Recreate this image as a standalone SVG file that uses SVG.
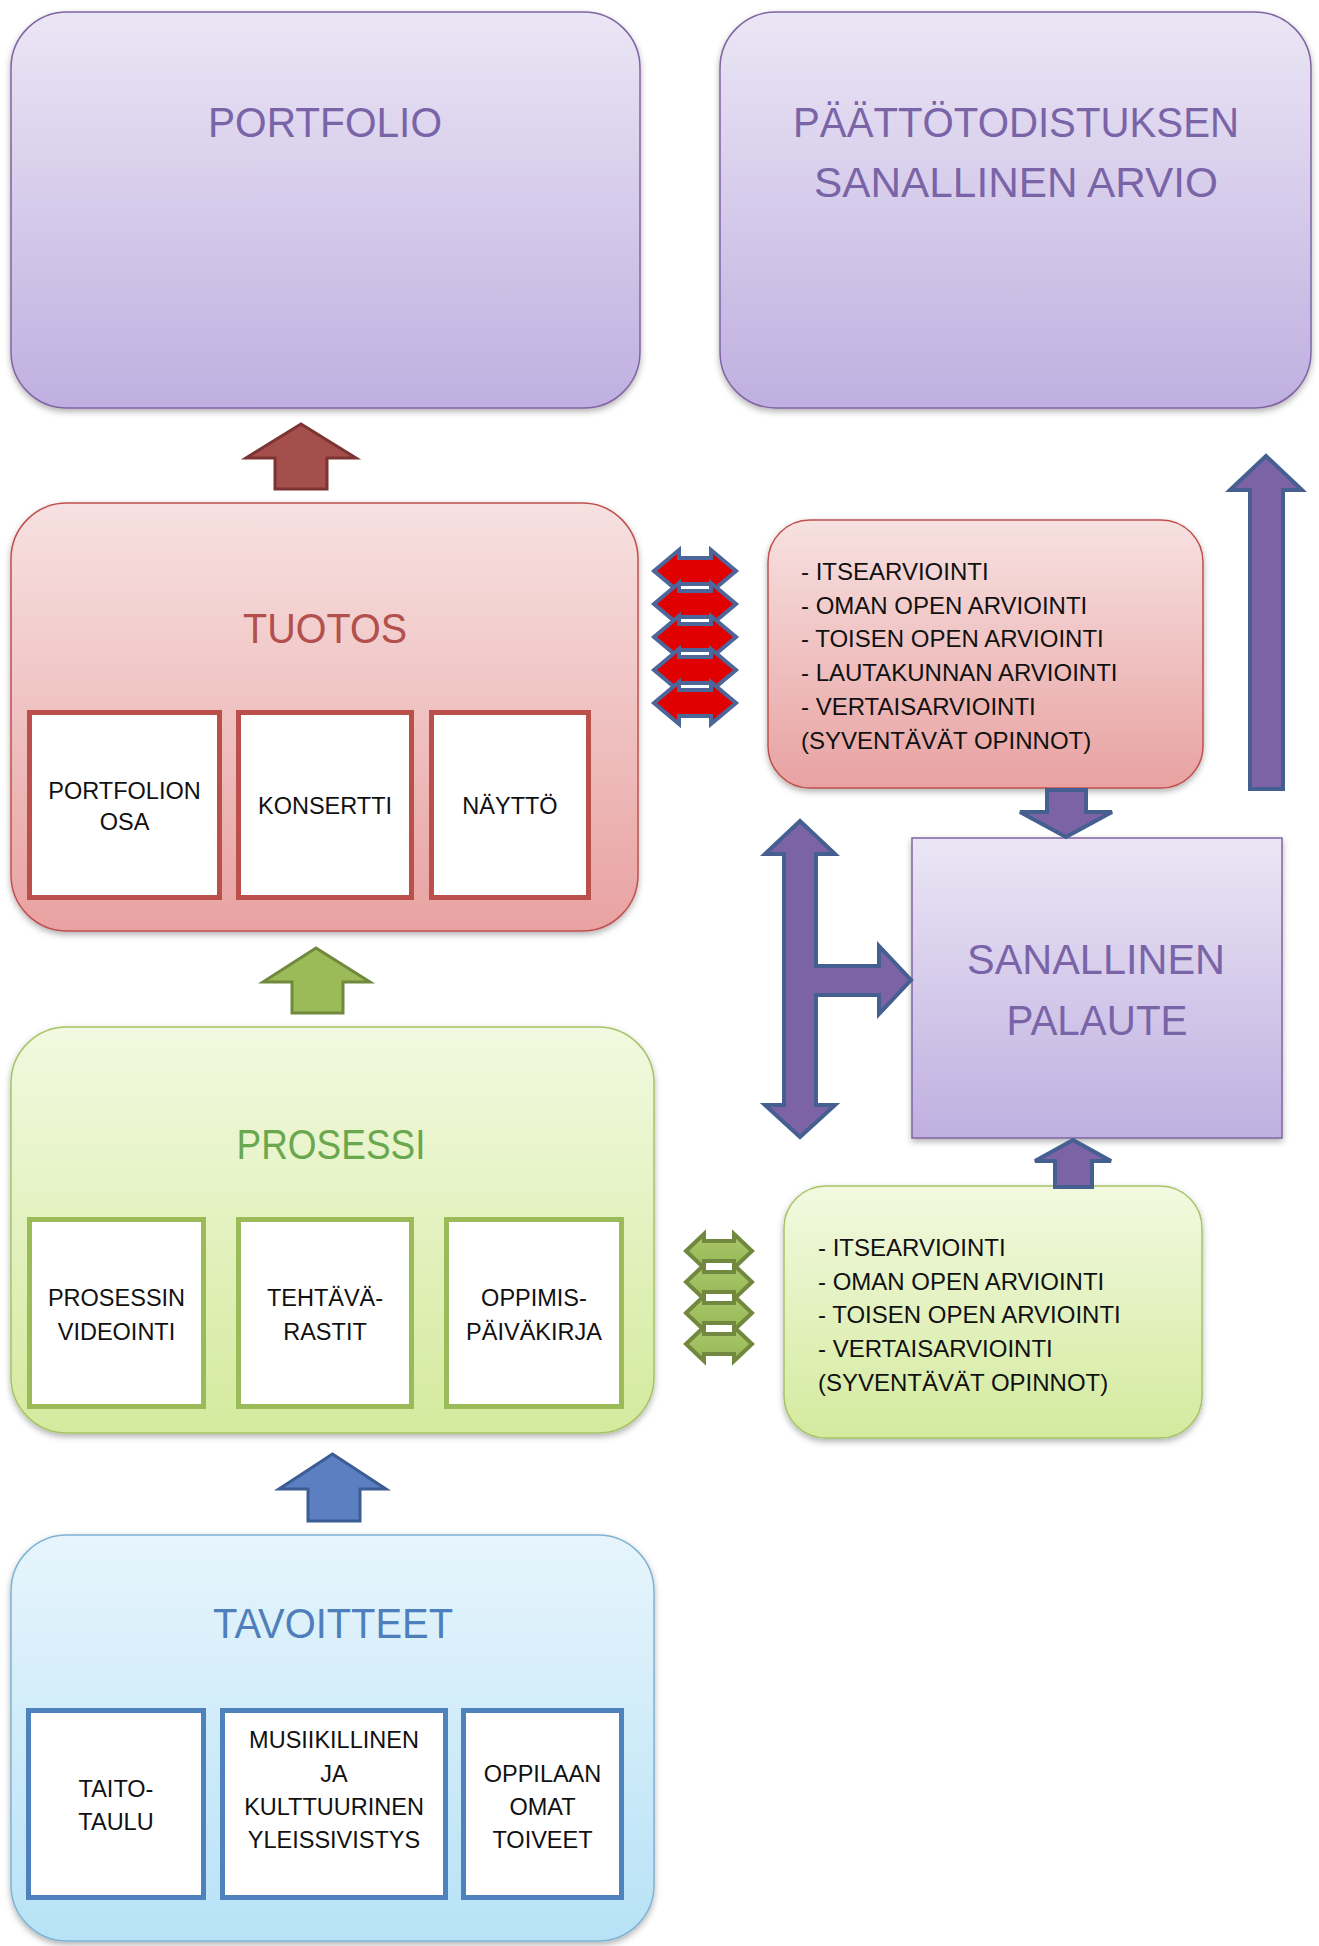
<svg xmlns="http://www.w3.org/2000/svg" width="1319" height="1946" viewBox="0 0 1319 1946">
<style>
.title{font-family:"Liberation Sans",Arial,sans-serif;font-size:43px;text-anchor:middle}
.inner{font-family:"Liberation Sans",Arial,sans-serif;font-size:23.5px;text-anchor:middle;fill:#111}
.eval{font-family:"Liberation Sans",Arial,sans-serif;font-size:24px;fill:#111}
.ibr{fill:#fff;stroke:#bb4f4c;stroke-width:5}
.ibg{fill:#fff;stroke:#9bbb59;stroke-width:5}
.ibb{fill:#fff;stroke:#4f81bd;stroke-width:5}
.pa{fill:#7c63a6;stroke:#455f91;stroke-width:4;stroke-linejoin:miter}
.ra{fill:#e00000;stroke:#4d6699;stroke-width:4}
.ga{fill:url(#gArr);stroke:#71893f;stroke-width:4}
</style>
<defs>
<linearGradient id="gPur" x1="0" y1="0" x2="0" y2="1"><stop offset="0" stop-color="#ebe6f5"/><stop offset="1" stop-color="#bfafe0"/></linearGradient>
<linearGradient id="gRed" x1="0" y1="0" x2="0" y2="1"><stop offset="0" stop-color="#f7e1e1"/><stop offset="1" stop-color="#e8a2a1"/></linearGradient>
<linearGradient id="gGrn" x1="0" y1="0" x2="0" y2="1"><stop offset="0" stop-color="#f2f9e0"/><stop offset="1" stop-color="#d4ea9e"/></linearGradient>
<linearGradient id="gBlu" x1="0" y1="0" x2="0" y2="1"><stop offset="0" stop-color="#e7f5fc"/><stop offset="1" stop-color="#b7e2f6"/></linearGradient>
<linearGradient id="gArr" x1="0" y1="0" x2="0" y2="1"><stop offset="0" stop-color="#a8c76b"/><stop offset="1" stop-color="#98b856"/></linearGradient>
<filter id="sh" x="-5%" y="-5%" width="110%" height="112%"><feDropShadow dx="0" dy="3" stdDeviation="3" flood-color="#000" flood-opacity="0.3"/></filter>
</defs>
<rect width="1319" height="1946" fill="#fff"/>

<g id="portfolio">
<rect x="11" y="12" width="629" height="396" rx="56" fill="url(#gPur)" stroke="#8064a2" stroke-width="1.5" filter="url(#sh)"/>
<text class="title" x="325" y="137" fill="#7a64a8" textLength="234" lengthAdjust="spacingAndGlyphs">PORTFOLIO</text>
</g>

<g id="paattotodistus">
<rect x="720" y="12" width="591" height="396" rx="56" fill="url(#gPur)" stroke="#8064a2" stroke-width="1.5" filter="url(#sh)"/>
<text class="title" x="1016" y="137" fill="#7a64a8" textLength="446" lengthAdjust="spacingAndGlyphs">PÄÄTTÖTODISTUKSEN</text>
<text class="title" x="1016" y="197" fill="#7a64a8" textLength="404" lengthAdjust="spacingAndGlyphs">SANALLINEN ARVIO</text>
</g>

<g id="tuotos">
<rect x="11" y="503" width="627" height="428" rx="56" fill="url(#gRed)" stroke="#c0504d" stroke-width="1.5" filter="url(#sh)"/>
<text class="title" x="325" y="643" fill="#b34f4d" textLength="164" lengthAdjust="spacingAndGlyphs">TUOTOS</text>
<rect class="ibr" x="29.5" y="712.5" width="190" height="185"/>
<rect class="ibr" x="238.5" y="712.5" width="173" height="185"/>
<rect class="ibr" x="431.5" y="712.5" width="157" height="185"/>
<text class="inner" x="124.5" y="799">PORTFOLION</text>
<text class="inner" x="124.5" y="830">OSA</text>
<text class="inner" x="325" y="814">KONSERTTI</text>
<text class="inner" x="510" y="814">NÄYTTÖ</text>
</g>

<g id="prosessi">
<rect x="11" y="1027" width="643" height="406" rx="56" fill="url(#gGrn)" stroke="#a6c466" stroke-width="1.5" filter="url(#sh)"/>
<text class="title" x="331" y="1159" fill="#6aa84f" textLength="189" lengthAdjust="spacingAndGlyphs">PROSESSI</text>
<rect class="ibg" x="29.5" y="1219.5" width="174" height="187"/>
<rect class="ibg" x="238.5" y="1219.5" width="173" height="187"/>
<rect class="ibg" x="446.5" y="1219.5" width="175" height="187"/>
<text class="inner" x="116.5" y="1306">PROSESSIN</text>
<text class="inner" x="116.5" y="1340">VIDEOINTI</text>
<text class="inner" x="325" y="1306">TEHTÄVÄ-</text>
<text class="inner" x="325" y="1340">RASTIT</text>
<text class="inner" x="534" y="1306">OPPIMIS-</text>
<text class="inner" x="534" y="1340">PÄIVÄKIRJA</text>
</g>

<g id="tavoitteet">
<rect x="11" y="1535" width="643" height="406" rx="56" fill="url(#gBlu)" stroke="#7fb3d4" stroke-width="1.5" filter="url(#sh)"/>
<text class="title" x="333" y="1638" fill="#4f7fbb" textLength="240" lengthAdjust="spacingAndGlyphs">TAVOITTEET</text>
<rect class="ibb" x="28.5" y="1710.5" width="175" height="187"/>
<rect class="ibb" x="222.5" y="1710.5" width="223" height="187"/>
<rect class="ibb" x="463.5" y="1710.5" width="158" height="187"/>
<text class="inner" x="116" y="1797">TAITO-</text>
<text class="inner" x="116" y="1830">TAULU</text>
<text class="inner" x="334" y="1748">MUSIIKILLINEN</text>
<text class="inner" x="334" y="1782">JA</text>
<text class="inner" x="334" y="1815">KULTTUURINEN</text>
<text class="inner" x="334" y="1848">YLEISSIVISTYS</text>
<text class="inner" x="542.5" y="1782">OPPILAAN</text>
<text class="inner" x="542.5" y="1815">OMAT</text>
<text class="inner" x="542.5" y="1848">TOIVEET</text>
</g>

<g id="arviointi-tuotos">
<rect x="768" y="520" width="435" height="268" rx="42" fill="url(#gRed)" stroke="#c0504d" stroke-width="1.5" filter="url(#sh)"/>
<text class="eval" x="801" y="580">- ITSEARVIOINTI</text>
<text class="eval" x="801" y="614">- OMAN OPEN ARVIOINTI</text>
<text class="eval" x="801" y="647">- TOISEN OPEN ARVIOINTI</text>
<text class="eval" x="801" y="681">- LAUTAKUNNAN ARVIOINTI</text>
<text class="eval" x="801" y="715">- VERTAISARVIOINTI</text>
<text class="eval" x="801" y="749">(SYVENTÄVÄT OPINNOT)</text>
</g>

<g id="arviointi-prosessi">
<rect x="784" y="1186" width="418" height="252" rx="42" fill="url(#gGrn)" stroke="#a6c466" stroke-width="1.5" filter="url(#sh)"/>
<text class="eval" x="818" y="1256">- ITSEARVIOINTI</text>
<text class="eval" x="818" y="1290">- OMAN OPEN ARVIOINTI</text>
<text class="eval" x="818" y="1323">- TOISEN OPEN ARVIOINTI</text>
<text class="eval" x="818" y="1357">- VERTAISARVIOINTI</text>
<text class="eval" x="818" y="1391">(SYVENTÄVÄT OPINNOT)</text>
</g>

<g id="sanallinen-palaute">
<rect x="912" y="838" width="370" height="300" fill="url(#gPur)" stroke="#8064a2" stroke-width="1.5" filter="url(#sh)"/>
<text class="title" x="1096" y="974" fill="#7a64a8" textLength="258" lengthAdjust="spacingAndGlyphs">SANALLINEN</text>
<text class="title" x="1097" y="1035" fill="#7a64a8" textLength="181" lengthAdjust="spacingAndGlyphs">PALAUTE</text>
</g>

<g id="connectors">
<!-- red up arrow TUOTOS -> PORTFOLIO -->
<path d="M301,424 L356,458 L327,458 L327,489 L275,489 L275,458 L246,458 Z" fill="#a44f4c" stroke="#7c3432" stroke-width="3"/>
<!-- green up arrow PROSESSI -> TUOTOS -->
<path d="M316,948 L370,982 L343,982 L343,1013 L292,1013 L292,982 L263,982 Z" fill="#9bbb59" stroke="#71893f" stroke-width="3"/>
<!-- blue up arrow TAVOITTEET -> PROSESSI -->
<path d="M332.5,1454 L386,1489 L360,1489 L360,1521 L308,1521 L308,1489 L279,1489 Z" fill="#5b7fc0" stroke="#3c5d93" stroke-width="3"/>
<!-- red double arrows -->
<path class="ra" d="M654,571 L679,550 L679,558 L711,558 L711,550 L736,571 L711,592 L711,584 L679,584 L679,592 Z"/>
<path class="ra" d="M654,604 L679,583 L679,591 L711,591 L711,583 L736,604 L711,625 L711,617 L679,617 L679,625 Z"/>
<path class="ra" d="M654,637 L679,616 L679,624 L711,624 L711,616 L736,637 L711,658 L711,650 L679,650 L679,658 Z"/>
<path class="ra" d="M654,670 L679,649 L679,657 L711,657 L711,649 L736,670 L711,691 L711,683 L679,683 L679,691 Z"/>
<path class="ra" d="M654,703 L679,682 L679,690 L711,690 L711,682 L736,703 L711,724 L711,716 L679,716 L679,724 Z"/>
<!-- green double arrows -->
<path class="ga" d="M686,1251 L704,1234 L704,1241 L734,1241 L734,1234 L752,1251 L734,1268 L734,1261 L704,1261 L704,1268 Z"/>
<path class="ga" d="M686,1282 L704,1265 L704,1272 L734,1272 L734,1265 L752,1282 L734,1299 L734,1292 L704,1292 L704,1299 Z"/>
<path class="ga" d="M686,1313 L704,1296 L704,1303 L734,1303 L734,1296 L752,1313 L734,1330 L734,1323 L704,1323 L704,1330 Z"/>
<path class="ga" d="M686,1344 L704,1327 L704,1334 L734,1334 L734,1327 L752,1344 L734,1361 L734,1354 L704,1354 L704,1361 Z"/>
<!-- purple down arrow eval -> palaute -->
<path class="pa" d="M1047,790 L1086,790 L1086,812 L1112,812 L1066,837 L1020,812 L1047,812 Z"/>
<!-- purple up arrow green eval -> palaute -->
<path class="pa" d="M1073,1140 L1111,1161 L1092,1161 L1092,1187 L1055,1187 L1055,1161 L1035,1161 Z"/>
<!-- tall purple up arrow -> paattotodistus -->
<path class="pa" d="M1266,456 L1302,490 L1283,490 L1283,789 L1250,789 L1250,490 L1230,490 Z"/>
<!-- vertical double arrow with branch to palaute -->
<path class="pa" d="M800,821 L835,854 L816,854 L816,966 L879,966 L879,946 L911,980 L879,1014 L879,995 L816,995 L816,1105 L835,1105 L800,1137 L765,1105 L784,1105 L784,854 L765,854 Z"/>
</g>
</svg>
